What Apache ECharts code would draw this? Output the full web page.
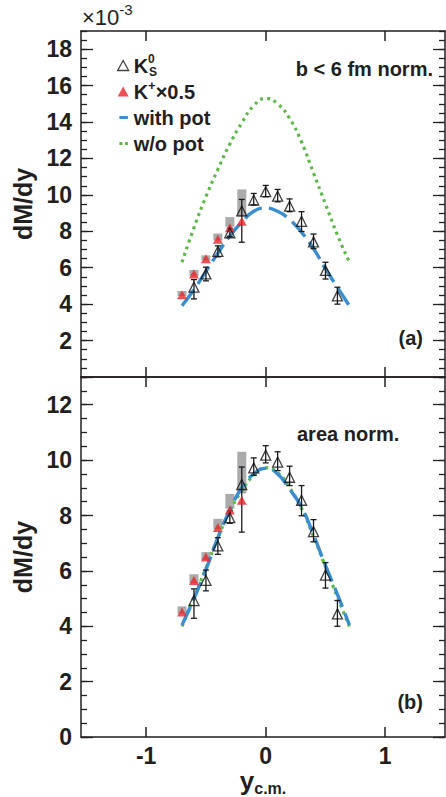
<!DOCTYPE html>
<html><head><meta charset="utf-8">
<script src="https://cdn.jsdelivr.net/npm/echarts@6/dist/echarts.min.js"></script>
<style>html,body{margin:0;padding:0;background:#fff}#c{width:446px;height:797px}</style>
</head><body><div id="c"></div>
<script>
// ---- data ----
const k0sRap = [-0.6,-0.5,-0.4,-0.3,-0.2,-0.1,0,0.1,0.2,0.3,0.4,0.5,0.6];
const k0sVal = [4.93,5.66,6.9,7.92,9.12,9.72,10.18,9.93,9.38,8.55,7.42,5.85,4.45];
const k0sErrLow = [4.29,5.28,6.6,7.72,7.4,9.45,9.9,9.62,9.08,7.99,7.05,5.38,4.0];
const k0sErrHigh = [5.35,6.03,7.2,8.17,9.75,10.08,10.52,10.3,9.78,9.08,7.85,6.3,4.93];

const kpRap = [-0.7,-0.6,-0.5,-0.4,-0.3,-0.2];
const kpVal = [4.52,5.65,6.5,7.57,8.2,8.55];
const sysLow = [4.45,5.55,6.4,7.5,8.25,8.8];
const sysHigh = [4.72,5.88,6.68,7.88,8.78,10.3];

const modelRap = [-0.7,-0.6,-0.5,-0.4,-0.3,-0.2,-0.1,0,0.1,0.2,0.3,0.4,0.5,0.6,0.7];
const withPotB6 = [3.91,4.8,5.8,6.8,7.75,8.5,9.1,9.28,9.1,8.65,7.95,7.05,5.95,4.92,3.91];
const woPotB6 = [6.3,8.2,9.9,11.4,12.8,13.95,14.9,15.3,15.0,14.2,12.9,11.2,9.5,7.8,6.3];
const withPotArea = [4.05,5.0,6.05,7.2,8.2,9.0,9.5,9.7,9.5,8.95,8.3,7.3,6.2,5.15,4.05];
const woPotArea = [4.0,5.05,6.1,7.2,8.15,8.9,9.45,9.72,9.55,9.0,8.25,7.25,6.15,5.05,4.0];

const xTicks = [-1,0,1];
const yLabelsTop = [2,4,6,8,10,12,14,16,18];
const yLabelsBottom = [0,2,4,6,8,10,12];

// ---- helpers ----
const FONT = 'Liberation Sans, Arial, Helvetica, sans-serif';
const INK = '#231f20';
function range(a,b,s){const r=[];for(let v=a;v<=b+1e-9;v+=s)r.push(Math.round(v*100)/100);return r;}
const majorTop = range(0,18,2), minorTop = range(0,19,0.5);
const majorBot = range(0,12,2), minorBot = range(0,13,0.5);

function xAxisDef(grid, pos, labels){
  return {type:'value', gridIndex:grid, position:pos, min:-1.545, max:1.5,
    axisLine:{show:true, onZero:false, lineStyle:{color:INK, width:1.5}},
    axisTick:{show:true, inside:true, length:10, customValues:xTicks, lineStyle:{color:INK,width:1.5}},
    axisLabel:{show:labels, customValues:xTicks, fontSize:23, fontWeight:'bold', color:INK, fontFamily:FONT, margin:7},
    splitLine:{show:false}};
}
function yAxisDef(grid, pos, max, ticks, len, labels, line){
  return {type:'value', gridIndex:grid, position:pos, min:0, max:max,
    axisLine:{show:line, onZero:false, lineStyle:{color:INK, width:1.5}},
    axisTick:{show:true, inside:true, length:len, customValues:ticks, lineStyle:{color:INK,width:1.3}},
    axisLabel:{show:!!labels, customValues:labels||[], fontSize:23, fontWeight:'bold', color:INK, fontFamily:FONT, margin:9},
    splitLine:{show:false}};
}
function errItem(params, api){
  const x=api.value(0), lo=api.value(1), hi=api.value(2);
  const a=api.coord([x,hi]), b=api.coord([x,lo]); const c=3;
  const st={stroke:'#1a1a1a', lineWidth:1.3};
  return {type:'group', children:[
    {type:'line', shape:{x1:a[0],y1:a[1],x2:b[0],y2:b[1]}, style:st},
    {type:'line', shape:{x1:a[0]-c,y1:a[1],x2:a[0]+c,y2:a[1]}, style:st},
    {type:'line', shape:{x1:b[0]-c,y1:b[1],x2:b[0]+c,y2:b[1]}, style:st}]};
}
function boxItem(params, api){
  const x=api.value(0), lo=api.value(1), hi=api.value(2);
  const a=api.coord([x,hi]), b=api.coord([x,lo]); const w=9;
  return {type:'rect', shape:{x:a[0]-w/2, y:a[1], width:w, height:b[1]-a[1]}, style:{fill:'rgba(150,150,150,0.8)'}};
}
function panelSeries(xi, yi, withPot, woPot, inLegend){
  const sfx = inLegend ? '' : ' ';
  return [
    {type:'custom', name:'sys'+xi, xAxisIndex:xi, yAxisIndex:yi, z:1, renderItem:boxItem,
      encode:{x:0,y:[1,2]}, data:kpRap.map((x,i)=>[x,sysLow[i],sysHigh[i]])},
    {type:'line', name:'w/o pot'+sfx, xAxisIndex:xi, yAxisIndex:yi, z:2, smooth:true, symbol:'none',
      lineStyle:{color:'#5cb946', width:3.2, type:[3,4]}, itemStyle:{color:'#5cb946'},
      data:modelRap.map((x,i)=>[x,woPot[i]])},
    {type:'line', name:'with pot'+sfx, xAxisIndex:xi, yAxisIndex:yi, z:3, smooth:true, symbol:'none',
      lineStyle:{color:'#3a8ed0', width:3.4, type:[20,7]}, itemStyle:{color:'#3a8ed0'},
      data:modelRap.map((x,i)=>[x,withPot[i]])},
    {type:'custom', name:'err'+xi, xAxisIndex:xi, yAxisIndex:yi, z:4, renderItem:errItem,
      encode:{x:0,y:[1,2]}, data:k0sRap.map((x,i)=>[x,k0sErrLow[i],k0sErrHigh[i]])},
    {type:'scatter', name:'Kplus'+sfx, xAxisIndex:xi, yAxisIndex:yi, z:5, symbol:'triangle', symbolSize:[10,9],
      itemStyle:{color:'#e8262a'}, data:kpRap.map((x,i)=>[x,kpVal[i]])},
    {type:'scatter', name:'K0S'+sfx, xAxisIndex:xi, yAxisIndex:yi, z:6, symbol:'triangle', symbolSize:[10,10],
      itemStyle:{color:'rgba(255,255,255,0)', borderColor:'#111', borderWidth:1.3},
      data:k0sRap.map((x,i)=>[x,k0sVal[i]])}
  ];
}

const legendNames = {'K0S':'{n|K}{sup|0}{sub|S}', 'Kplus':'{n|K}{sup2|+}{n|×0.5}', 'with pot':'{n|with pot}', 'w/o pot':'{n|w/o pot}'};

const chart = echarts.init(document.getElementById('c'), null, {renderer:'svg'});
chart.setOption({
  animation:false,
  backgroundColor:'#fff',
  grid:[{left:81, right:1, top:31, height:346}, {left:81, right:1, top:377, height:362}],
  xAxis:[
    xAxisDef(0,'bottom',false), xAxisDef(0,'top',false),
    Object.assign(xAxisDef(1,'bottom',true), {name:'{y|y}{s|c.m.}', nameLocation:'middle', nameGap:24,
      nameTextStyle:{rich:{y:{fontSize:26, fontWeight:'bold', color:INK, fontFamily:FONT, lineHeight:30},
                           s:{fontSize:16, fontWeight:'bold', color:INK, fontFamily:FONT, verticalAlign:'bottom', lineHeight:30}}}}),
    xAxisDef(1,'top',false)
  ],
  yAxis:[
    Object.assign(yAxisDef(0,'left',19,majorTop,12,yLabelsTop,true), {name:'dM/dy', nameLocation:'middle', nameGap:46,
      nameTextStyle:{fontSize:25, fontWeight:'bold', color:INK, fontFamily:FONT}}),
    yAxisDef(0,'left',19,minorTop,6,null,false),
    yAxisDef(0,'right',19,majorTop,12,null,true),
    yAxisDef(0,'right',19,minorTop,6,null,false),
    Object.assign(yAxisDef(1,'left',13,majorBot,12,yLabelsBottom,true), {name:'dM/dy', nameLocation:'middle', nameGap:46,
      nameTextStyle:{fontSize:25, fontWeight:'bold', color:INK, fontFamily:FONT}}),
    yAxisDef(1,'left',13,minorBot,6,null,false),
    yAxisDef(1,'right',13,majorBot,12,null,true),
    yAxisDef(1,'right',13,minorBot,6,null,false)
  ],
  legend:{
    orient:'vertical', left:112, top:48, itemWidth:11, itemHeight:10, itemGap:1,
    selectedMode:false,
    data:[
      {name:'K0S', icon:'triangle', itemStyle:{color:'rgba(255,255,255,0)', borderColor:'#111', borderWidth:1.3}},
      {name:'Kplus', icon:'triangle'},
      {name:'with pot', icon:'path://M0,0L0.01,0M0,10L0.01,10M1,3.6h8.5v3h-8.5z', itemStyle:{color:'#3a8ed0'}},
      {name:'w/o pot', icon:'path://M0,0L0.01,0M0,10L0.01,10M1,3.6h3v3h-3zM6.5,3.6h3v3h-3z', itemStyle:{color:'#5cb946'}}
    ],
    formatter:function(n){return legendNames[n]||n;},
    textStyle:{fontSize:20, fontWeight:'bold', color:INK, fontFamily:FONT, lineHeight:25,
      rich:{
        n:{fontSize:20, fontWeight:'bold', color:INK, fontFamily:FONT, lineHeight:25},
        sup:{fontSize:12, fontWeight:'bold', color:INK, fontFamily:FONT, verticalAlign:'top', lineHeight:7, width:1},
        sub:{fontSize:12, fontWeight:'bold', color:INK, fontFamily:FONT, verticalAlign:'bottom', lineHeight:11},
        sup2:{fontSize:13, fontWeight:'bold', color:INK, fontFamily:FONT, verticalAlign:'top', lineHeight:24}
      }}
  },
  graphic:[
    {type:'text', left:82, top:2, style:{text:'{a|×10}{b|-3}', rich:{
      a:{fontSize:22, fontFamily:FONT, fill:INK, lineHeight:26, verticalAlign:'bottom'},
      b:{fontSize:15, fontFamily:FONT, fill:INK, lineHeight:26, verticalAlign:'top'}}}},
    {type:'text', x:433, y:69, style:{text:'b < 6 fm norm.', font:'bold 20px '+FONT, fill:INK, align:'right', verticalAlign:'middle'}},
    {type:'text', x:423, y:338, style:{text:'(a)', font:'bold 20px '+FONT, fill:INK, align:'right', verticalAlign:'middle'}},
    {type:'text', x:297, y:434, style:{text:'area norm.', font:'bold 20px '+FONT, fill:INK, align:'left', verticalAlign:'middle'}},
    {type:'text', x:423, y:702, style:{text:'(b)', font:'bold 20px '+FONT, fill:INK, align:'right', verticalAlign:'middle'}}
  ],
  series:[].concat(panelSeries(0,0,withPotB6,woPotB6,true), panelSeries(2,4,withPotArea,woPotArea,false))
});
</script></body></html>
